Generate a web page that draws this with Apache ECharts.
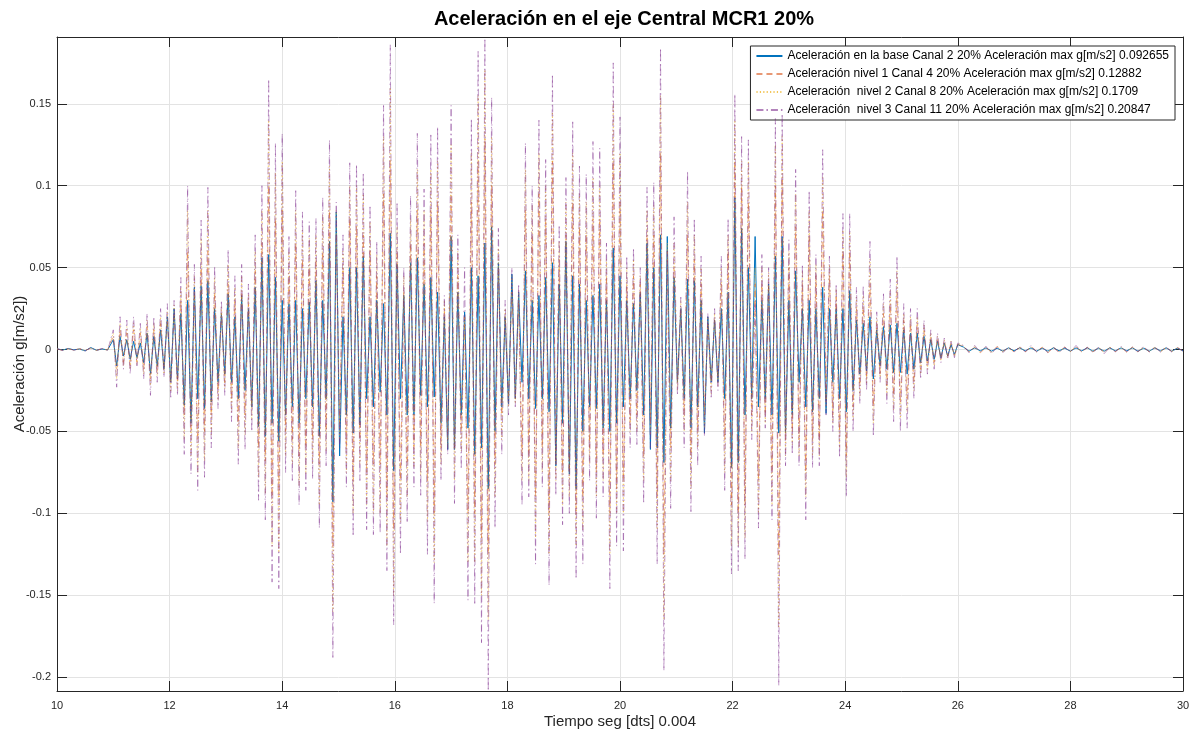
<!DOCTYPE html>
<html>
<head>
<meta charset="utf-8">
<script src="https://cdn.jsdelivr.net/npm/echarts@6/dist/echarts.min.js"></script>
<style>
html,body{margin:0;padding:0;background:#fff;}
#chart{width:1192px;height:736px;}
</style>
</head>
<body>
<div id="chart"></div>
<script>
// ---- sampling (time axis, seconds) ----
const PRE_T0 = 10.0, PRE_DT = 0.1;      // quiet start 10.0 - 10.9
const MAIN_T0 = 11.0, MAIN_DT = 0.06;   // strong motion 11.0 - 26.0 (peak / trough samples)
const POST_T0 = 26.1, POST_DT = 0.1;    // quiet end 26.1 - 30.0

const xTicks = [10, 12, 14, 16, 18, 20, 22, 24, 26, 28, 30];

const seriesNames = [
  'Aceleración en la base Canal 2 20% Aceleración max g[m/s2] 0.092655',
  'Aceleración nivel 1 Canal 4 20% Aceleración max g[m/s2] 0.12882',
  'Aceleración  nivel 2 Canal 8 20% Aceleración max g[m/s2] 0.1709',
  'Aceleración  nivel 3 Canal 11 20% Aceleración max g[m/s2] 0.20847'
];

// ---- quiet start ----
const preBase = [.0004,-.0003,.0006,-.0002,.0003,-.0008,.0012,-.0004,.0003,-.0002];
const preN1   = [.0003,-.0005,.0004,-.0003,.0005,-.0006,.0008,-.0005,.0004,-.0003];
const preN2   = [.0005,-.0004,.0006,-.0005,.0004,-.0007,.001,-.0004,.0005,-.0004];
const preN3   = [.0006,-.0006,.0008,-.0005,.0006,-.0009,.0012,-.0006,.0007,-.0005];

// ---- strong motion (alternating peaks / troughs) ----
const mainBase = [
  .006,-.01,.008,-.004,.006,-.006,.005,-.005,.004,-.008,.01,-.015,.008,-.01,.012,-.012,.02,
  -.02,.025,-.018,.022,-.034,.03,-.045,.038,-.03,.039,-.036,.042,-.032,.025,-.02,.022,-.015,
  .034,-.02,.02,-.03,.033,-.025,.025,-.035,.038,-.047,.056,-.053,.058,-.045,.044,-.056,
  .03,-.04,.028,-.035,.03,-.045,.025,-.03,.029,-.035,.042,-.053,.03,-.03,.066,-.093,.084,
  -.065,.02,-.04,.05,-.051,.05,-.046,.057,-.03,.02,-.035,.03,-.026,.028,-.04,.071,-.074,
  .052,-.03,.033,-.04,.053,-.04,.056,-.028,.04,-.035,.044,-.029,.035,-.045,.02,-.061,
  .069,-.061,.035,-.04,.023,-.048,.05,-.064,.045,-.06,.065,-.085,.075,-.05,.053,-.035,.02,
  -.033,.046,-.03,.035,-.02,.048,-.03,.03,-.036,.033,-.03,.044,-.038,.053,-.071,.04,-.045,
  .066,-.076,.045,-.085,.04,-.05,.03,-.035,.033,-.036,.04,-.048,.03,-.05,.062,-.045,
  .045,-.035,.03,-.03,.028,-.025,.035,-.04,.065,-.061,.05,-.06,.07,-.069,.069,-.048,.044,
  -.02,.025,-.03,.043,-.048,.042,-.035,.03,-.051,.02,-.02,.018,-.02,.025,-.03,.035,-.072,
  .0927,-.069,.074,-.04,.05,-.03,.069,-.035,.03,-.03,.04,-.04,.057,-.051,.069,-.051,
  .03,-.04,.048,-.02,.025,-.035,.03,-.038,.025,-.03,.038,-.039,.025,-.02,.025,-.03,.025,
  -.038,.036,-.025,.018,-.015,.016,-.013,.02,-.018,.012,-.01,.014,-.012,.015,-.014,.016,-.014,
  .012,-.015,.01,-.012,.01,-.008,.008,-.007,.006,-.006,.005,-.005,.004,-.004,.003,-.003,.003
];
const mainN1 = [
  .008,-.012,.012,-.008,.01,-.01,.012,-.008,.01,-.012,.014,-.018,.012,-.013,.016,-.012,.018,
  -.02,.022,-.02,.03,-.04,.06,-.05,.035,-.055,.05,-.05,.06,-.04,.035,-.025,.022,-.02,
  .04,-.03,.03,-.045,.035,-.04,.028,-.035,.048,-.06,.065,-.068,.1,-.09,.08,-.09,
  .085,-.05,.045,-.055,.065,-.065,.055,-.06,.05,-.055,.055,-.07,.06,-.05,.085,-.12,.07,
  -.045,.05,-.06,.08,-.08,.075,-.055,.07,-.075,.06,-.07,.045,-.07,.095,-.09,.115,-.11,
  .06,-.08,.035,-.07,.065,-.06,.085,-.06,.065,-.08,.085,-.1,.09,-.06,.025,-.055,
  .095,-.06,.045,-.05,.02,-.1,.09,-.1,.115,-.115,.1288,-.125,.1,-.07,.05,-.04,.02,
  -.03,.035,-.03,.03,-.065,.085,-.065,.07,-.09,.095,-.06,.08,-.1,.115,-.07,.055,-.075,
  .07,-.075,.09,-.1,.075,-.09,.07,-.06,.08,-.075,.08,-.065,.045,-.1,.115,-.085,
  .09,-.08,.04,-.045,.045,-.04,.04,-.065,.07,-.045,.07,-.09,.12,-.125,.06,-.06,.05,
  -.02,.025,-.04,.07,-.065,.055,-.05,.04,-.04,.017,-.02,.018,-.018,.04,-.055,.06,-.095,
  .115,-.1,.1,-.095,.09,-.04,.04,-.08,.04,-.04,.04,-.075,.1,-.125,.105,-.055,
  .05,-.05,.075,-.055,.04,-.075,.07,-.055,.045,-.055,.085,-.032,.045,-.04,.032,-.05,.06,
  -.065,.06,-.035,.025,-.022,.026,-.018,.04,-.035,.016,-.015,.022,-.022,.028,-.028,.035,-.032,
  .018,-.03,.016,-.02,.016,-.012,.012,-.01,.008,-.008,.007,-.006,.005,-.004,.004,-.004,.003
];
const mainN2 = [
  .01,-.018,.016,-.01,.014,-.012,.016,-.009,.013,-.015,.018,-.022,.016,-.016,.02,-.015,.023,
  -.026,.027,-.025,.038,-.055,.085,-.065,.045,-.075,.068,-.068,.085,-.052,.044,-.031,.026,-.024,
  .052,-.038,.038,-.06,.045,-.052,.034,-.043,.06,-.078,.085,-.088,.14,-.12,.108,-.124,
  .115,-.065,.06,-.07,.085,-.083,.073,-.076,.068,-.07,.07,-.095,.082,-.062,.112,-.16,.085,
  -.055,.06,-.075,.1,-.1,.1,-.07,.095,-.095,.078,-.1,.058,-.1,.13,-.12,.16,-.15,
  .075,-.105,.045,-.09,.08,-.072,.11,-.077,.085,-.105,.11,-.13,.115,-.07,.03,-.06,
  .125,-.08,.06,-.062,.02,-.13,.12,-.13,.155,-.15,.1709,-.165,.13,-.09,.062,-.055,.025,
  -.035,.045,-.033,.036,-.08,.11,-.08,.088,-.115,.12,-.075,.1,-.125,.145,-.08,.066,-.095,
  .09,-.09,.12,-.12,.095,-.11,.09,-.07,.105,-.09,.1,-.08,.055,-.125,.15,-.1,
  .12,-.1,.05,-.05,.055,-.05,.045,-.08,.085,-.052,.088,-.11,.155,-.165,.065,-.08,.065,
  -.025,.03,-.05,.09,-.085,.07,-.06,.05,-.048,.02,-.027,.022,-.022,.05,-.075,.07,-.12,
  .14,-.12,.115,-.115,.115,-.05,.05,-.1,.05,-.045,.047,-.095,.125,-.17,.13,-.065,
  .06,-.058,.095,-.065,.048,-.09,.085,-.065,.052,-.065,.105,-.036,.052,-.045,.037,-.06,.073,
  -.078,.072,-.043,.032,-.028,.033,-.021,.055,-.045,.019,-.017,.028,-.028,.036,-.037,.048,-.042,
  .022,-.038,.02,-.025,.02,-.015,.015,-.012,.01,-.01,.008,-.007,.006,-.005,.005,-.004,.004
];
const mainN3 = [
  .012,-.023,.02,-.012,.018,-.015,.02,-.01,.016,-.018,.022,-.028,.02,-.02,.025,-.017,.028,
  -.03,.03,-.028,.044,-.064,.10,-.076,.052,-.086,.079,-.078,.099,-.06,.051,-.036,.03,-.028,
  .061,-.044,.045,-.07,.052,-.061,.04,-.05,.07,-.092,.10,-.104,.165,-.142,.126,-.146,
  .132,-.075,.069,-.08,.097,-.095,.084,-.086,.078,-.079,.08,-.109,.093,-.071,.128,-.188,.09,
  -.06,.07,-.084,.114,-.114,.113,-.08,.108,-.11,.088,-.113,.066,-.112,.149,-.135,.186,-.168,
  .09,-.125,.05,-.105,.094,-.084,.132,-.089,.098,-.125,.131,-.155,.136,-.08,.033,-.064,
  .149,-.094,.07,-.073,.05,-.153,.141,-.155,.182,-.179,.19,-.2084,.154,-.109,.074,-.064,.03,
  -.04,.05,-.035,.04,-.095,.126,-.09,.10,-.131,.14,-.084,.116,-.144,.168,-.089,.076,-.107,
  .105,-.10,.139,-.14,.112,-.131,.107,-.08,.127,-.103,.123,-.09,.065,-.146,.175,-.12,
  .142,-.123,.057,-.06,.062,-.058,.05,-.094,.099,-.06,.102,-.131,.184,-.196,.06,-.097,.081,
  -.028,.032,-.06,.109,-.099,.08,-.071,.057,-.053,.022,-.03,.025,-.025,.057,-.086,.08,-.137,
  .156,-.135,.13,-.128,.128,-.055,.03,-.109,.058,-.048,.05,-.104,.141,-.205,.144,-.071,
  .067,-.064,.11,-.071,.052,-.104,.097,-.072,.058,-.071,.122,-.04,.057,-.05,.04,-.066,.083,
  -.09,.083,-.05,.038,-.033,.039,-.025,.066,-.053,.023,-.02,.034,-.033,.043,-.044,.057,-.05,
  .028,-.048,.025,-.03,.025,-.018,.018,-.015,.012,-.012,.01,-.008,.007,-.006,.005,-.005,.004
];

// ---- quiet end ----
const postBase = [
  .0015,-.001,.001,-.0008,.001,-.001,.0008,-.001,.001,-.0008,
  .001,-.0008,.001,-.001,.0008,-.001,.001,-.0008,.0008,-.001,
  .001,-.0008,.001,-.001,.0008,-.001,.001,-.0008,.001,-.0008,
  .001,-.001,.0008,-.001,.001,-.0008,.001,-.001,.0008,-.0008
];
const postN1 = [
  .002,-.0015,.0015,-.002,.0012,-.0015,.002,-.0012,.0015,-.0015,
  .0012,-.0015,.002,-.0012,.0015,-.002,.0012,-.0015,.0015,-.0012,
  .002,-.0015,.0012,-.0015,.0015,-.002,.0012,-.0012,.0015,-.0015,
  .0015,-.0012,.0015,-.0015,.0012,-.0015,.0015,-.0012,.0012,-.001
];
const postN2 = [
  .002,-.0015,.0015,-.0015,.0015,-.002,.0015,-.0015,.0012,-.0015,
  .0015,-.0012,.0015,-.0015,.0012,-.0015,.0015,-.0015,.0012,-.0012,
  .0015,-.0015,.0015,-.0012,.0012,-.0015,.0015,-.0012,.0012,-.0015,
  .0012,-.0015,.0012,-.0012,.0015,-.0012,.0012,-.0012,.0012,-.001
];
const postN3 = [
  .0025,-.002,.0025,-.0015,.002,-.0025,.0015,-.002,.0015,-.0015,
  .002,-.0015,.0025,-.0015,.0015,-.002,.0015,-.002,.0015,-.0015,
  .0025,-.0015,.0015,-.002,.0015,-.0025,.0015,-.0015,.002,-.0015,
  .0015,-.0015,.002,-.0015,.0015,-.0015,.0015,-.0015,.0012,-.001
];

// ---- build [t, value] pairs ----
function pairs(t0, dt, vals) {
  return vals.map((v, i) => [+(t0 + i * dt).toFixed(3), v]);
}
function build(pre, main, post) {
  return pairs(PRE_T0, PRE_DT, pre)
    .concat(pairs(MAIN_T0, MAIN_DT, main))
    .concat(pairs(POST_T0, POST_DT, post));
}

const colors = ['#0072BD', '#D95319', '#EDB120', '#7E2F8E'];
const dataSets = [
  build(preBase, mainBase, postBase),
  build(preN1, mainN1, postN1),
  build(preN2, mainN2, postN2),
  build(preN3, mainN3, postN3)
];
const lineTypes = ['solid', [6, 4], [1.2, 2.2], [7, 3, 1.5, 3]];
const lineWidths = [1, 0.8, 0.8, 0.8];
const opac = [1, 0.6, 0.75, 0.6];

const FONT = "'Liberation Sans', Arial, Helvetica, sans-serif";
const Y_MIN = -0.20847, Y_MAX = 0.1908;
const AX = '#262626';

const chart = echarts.init(document.getElementById('chart'), null, {renderer: 'canvas'});
chart.setOption({
  animation: false,
  backgroundColor: '#ffffff',
  textStyle: {fontFamily: FONT},
  title: {
    text: 'Aceleración en el eje Central MCR1 20%',
    left: 620,
    top: 5,
    textAlign: 'center',
    padding: 4,
    textStyle: {fontFamily: FONT, fontSize: 20, fontWeight: 'bold', color: '#000'}
  },
  legend: {
    orient: 'vertical',
    right: 17,
    top: 46,
    padding: [3, 6, 3, 5],
    itemGap: 4,
    itemWidth: 26,
    itemHeight: 10,
    backgroundColor: '#ffffff',
    borderColor: '#262626',
    borderWidth: 1,
    borderRadius: 0,
    itemStyle: {opacity: 0},
    textStyle: {fontFamily: FONT, fontSize: 12, color: '#000', lineHeight: 14},
    data: seriesNames
  },
  grid: {left: 57, right: 9, top: 37, bottom: 45, containLabel: false, outerBoundsMode: 'none'},
  xAxis: [{
    type: 'value', min: 10, max: 30, interval: 2,
    name: 'Tiempo seg [dts] 0.004', nameLocation: 'middle', nameGap: 23, nameMoveOverlap: false,
    nameTextStyle: {fontFamily: FONT, fontSize: 15, color: AX},
    axisLine: {show: true, onZero: false, lineStyle: {color: AX, width: 1}},
    axisTick: {show: true, inside: true, length: 10, lineStyle: {color: AX}},
    axisLabel: {fontFamily: FONT, fontSize: 11, color: AX, margin: 9},
    splitLine: {show: true, lineStyle: {color: '#e3e3e3', width: 1}}
  }, {
    type: 'value', min: 10, max: 30, interval: 2, position: 'top',
    axisLine: {show: true, onZero: false, lineStyle: {color: AX, width: 1}},
    axisTick: {show: true, inside: true, length: 10, lineStyle: {color: AX}},
    axisLabel: {show: false},
    splitLine: {show: false}
  }],
  yAxis: [{
    type: 'value', min: Y_MIN, max: Y_MAX, splitNumber: 8,
    name: 'Aceleración g[m/s2])', nameLocation: 'middle', nameGap: 30, nameRotate: 90, nameMoveOverlap: false,
    nameTextStyle: {fontFamily: FONT, fontSize: 15, color: AX},
    axisLine: {show: true, onZero: false, lineStyle: {color: AX, width: 1}},
    axisTick: {show: true, inside: true, length: 10, lineStyle: {color: AX}},
    axisLabel: {fontFamily: FONT, fontSize: 11, color: AX, margin: 6, showMinLabel: false, showMaxLabel: false},
    splitLine: {show: true, lineStyle: {color: '#e3e3e3', width: 1}}
  }, {
    type: 'value', min: Y_MIN, max: Y_MAX, splitNumber: 8, position: 'right',
    axisLine: {show: true, onZero: false, lineStyle: {color: AX, width: 1}},
    axisTick: {show: true, inside: true, length: 10, lineStyle: {color: AX}},
    axisLabel: {show: false},
    splitLine: {show: false}
  }],
  series: seriesNames.map((name, k) => ({
    name: name,
    type: 'line',
    xAxisIndex: 0,
    yAxisIndex: 0,
    data: dataSets[k],
    showSymbol: false,
    symbol: 'none',
    silent: true,
    clip: true,
    color: colors[k],
    lineStyle: {color: colors[k], width: lineWidths[k], type: lineTypes[k], opacity: opac[k]},
    z: 2 + k
  }))
});
</script>
</body>
</html>
